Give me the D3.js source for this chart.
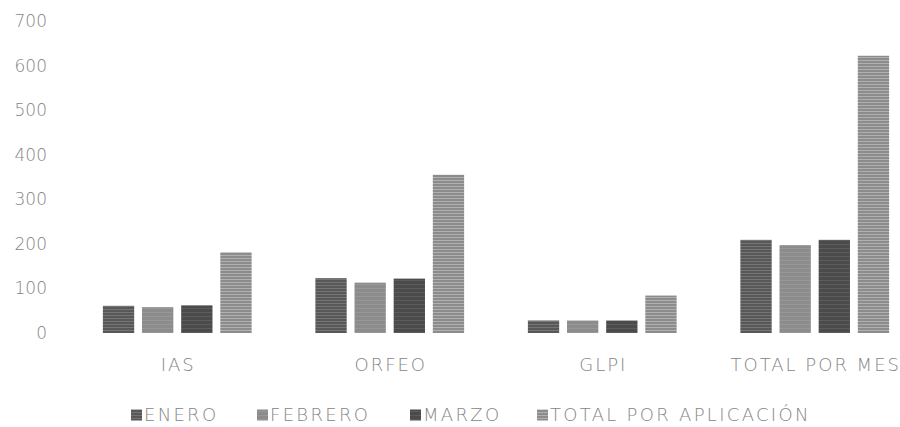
<!DOCTYPE html>
<meta charset="utf-8">
<style>
  body { margin: 0; background: #fff; }
  text { font-family: "DejaVu Sans", sans-serif; font-weight: 200; fill: #858585; }
</style>
<svg width="900" height="427"></svg>
<script src="https://cdn.jsdelivr.net/npm/d3@7"></script>
<script>

var categories = ["IAS", "ORFEO", "GLPI", "TOTAL POR MES"];
var series = ["ENERO", "FEBRERO", "MARZO", "TOTAL POR APLICACIÓN"];

// valores, por categoria
var enero   = [61, 123, 28, 209];
var febrero = [58, 113, 28, 197];
var marzo   = [62, 122, 28, 209];
var totalApp = [181, 355, 84, 622];

var yTicks = [0, 100, 200, 300, 400, 500, 600, 700];

var values = [enero, febrero, marzo, totalApp];

var svg = d3.select("svg");

var x0 = d3.scaleBand()
    .domain(categories)
    .range([71, 921])
    .paddingInner(0.3)
    .paddingOuter(0.15);

var x1 = d3.scaleBand()
    .domain(series)
    .range([0, x0.bandwidth()])
    .paddingInner(0.2);

var y = d3.scaleLinear()
    .domain([0, 700])
    .range([333, 21]);

// texturas que imitan el escaneo
var defs = svg.append("defs");
var looks = [
  { base: "#585858", line: "#747474", step: 3 },
  { base: "#8c8c8c", line: "#979797", step: 4 },
  { base: "#4c4c4c", line: "#5c5c5c", step: 4 },
  { base: "#8c8c8c", line: "#b0b0b0", step: 3 }
];
looks.forEach(function(l, i) {
  var p = defs.append("pattern")
      .attr("id", "pat" + i)
      .attr("patternUnits", "userSpaceOnUse")
      .attr("width", 8)
      .attr("height", l.step);
  p.append("rect").attr("width", 8).attr("height", l.step).attr("fill", l.base);
  p.append("rect").attr("width", 8).attr("height", 1).attr("fill", l.line);
});
defs.append("filter").attr("id", "blur")
  .append("feGaussianBlur").attr("stdDeviation", 0.6);

// eje y
var yAxis = svg.append("g")
    .attr("transform", "translate(47,0)")
    .call(d3.axisLeft(y).tickValues(yTicks).tickSize(0).tickPadding(0));
yAxis.select(".domain").remove();
yAxis.selectAll("text")
    .style("font-size", "17px")
    .style("font-family", "'DejaVu Sans', sans-serif")
    .attr("fill", "#8a8a8a");

// barras
var groups = svg.append("g").attr("filter", "url(#blur)")
  .selectAll("g")
  .data(categories)
  .enter().append("g")
    .attr("transform", function(d) { return "translate(" + x0(d) + ",0)"; });

groups.selectAll("rect")
  .data(function(c, ci) {
    return series.map(function(s, si) { return { s: s, si: si, v: values[si][ci] }; });
  })
  .enter().append("rect")
    .attr("x", function(d) { return x1(d.s); })
    .attr("y", function(d) { return y(d.v); })
    .attr("width", x1.bandwidth())
    .attr("height", function(d) { return y(0) - y(d.v); })
    .attr("fill", function(d) { return "url(#pat" + d.si + ")"; });

// eje x
var xAxis = svg.append("g")
    .attr("transform", "translate(1,358)")
    .call(d3.axisBottom(x0).tickSize(0).tickPadding(0));
xAxis.select(".domain").remove();
xAxis.selectAll("text")
    .style("font-size", "18px")
    .style("letter-spacing", "2px")
    .style("font-family", "'DejaVu Sans', sans-serif")
    .attr("fill", "#7e7e7e");

// leyenda
var legendX = [131, 257, 410, 537];
var legend = svg.append("g").selectAll("g")
  .data(series)
  .enter().append("g")
    .attr("transform", function(d, i) { return "translate(" + legendX[i] + ",415)"; });

legend.append("rect")
    .attr("x", 0)
    .attr("y", -5.5)
    .attr("width", 11)
    .attr("height", 11)
    .attr("filter", "url(#blur)")
    .attr("fill", function(d, i) { return "url(#pat" + i + ")"; });

legend.append("text")
    .attr("x", 13)
    .attr("dy", "0.35em")
    .style("font-size", "18px")
    .style("letter-spacing", "2.3px")
    .attr("fill", "#858585")
    .text(function(d) { return d; });

</script>
